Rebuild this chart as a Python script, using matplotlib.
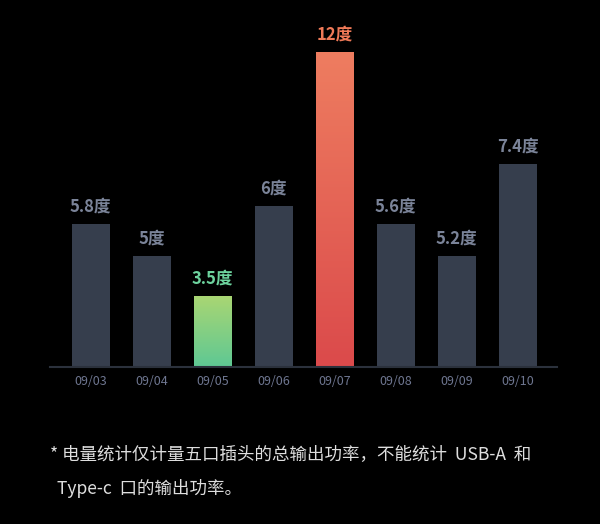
import matplotlib
matplotlib.use("Agg")
import matplotlib.pyplot as plt
import numpy as np
from matplotlib.colors import LinearSegmentedColormap

plt.rcParams['font.family'] = ['Noto Sans CJK SC', 'DejaVu Sans']

dates = ["09/03", "09/04", "09/05", "09/06", "09/07", "09/08", "09/09", "09/10"]
value_labels = ["5.8度", "5度", "3.5度", "6度", "12度", "5.6度", "5.2度", "7.4度"]
# bar heights as drawn in the picture (same units as the 12度 bar)
bar_heights = [5.44, 4.22, 2.70, 6.15, 12.0, 5.44, 4.22, 7.72]
footnote_1 = "* 电量统计仅计量五口插头的总输出功率，不能统计  USB-A  和"
footnote_2 = "Type-c  口的输出功率。"

grey = "#363E4D"
label_grey = "#7B8499"
tick_grey = "#6E7690"
gradients = {4: ("#EE7D60", "#DB4A4B", "#F07A58"),
             2: ("#A9D673", "#5EC894", "#6DD39E")}

fig = plt.figure(figsize=(6.0, 5.24), dpi=100, facecolor="black")
W, H = 600, 524
left, right, bottom, top = 50, 557, 367, 20
ax = fig.add_axes([left / W, 1 - bottom / H, (right - left) / W, (bottom - top) / H])
ax.set_facecolor("black")

x = np.arange(len(dates))
px_per_unit = 61.0
ax.set_xlim((left - 90.5) / px_per_unit, (right - 90.5) / px_per_unit)
ax.set_ylim(0, (bottom - top) / (315.0 / 12.0))

bw = 38 / 61.0
bars = ax.bar(x, bar_heights, width=bw, color=grey, zorder=2)

for i, b in enumerate(bars):
    col = label_grey
    if i in gradients:
        c_top, c_bot, col = gradients[i]
        b.set_facecolor("none")
        cmap = LinearSegmentedColormap.from_list("g%d" % i, [c_bot, c_top])
        grad = np.linspace(0, 1, 256).reshape(-1, 1)
        im = ax.imshow(grad, cmap=cmap, origin="lower", aspect="auto",
                       extent=[b.get_x(), b.get_x() + b.get_width(), 0, b.get_height()],
                       zorder=2)
        im.set_clip_path(b)
    ax.annotate(value_labels[i], (b.get_x() + b.get_width() / 2, b.get_height()),
                xytext=(0, 6), textcoords="offset points", ha="center", va="bottom",
                fontsize=12, fontweight="bold", color=col)

ax.set_xticks(x)
ax.set_xticklabels(dates, fontsize=9, color=tick_grey)
ax.tick_params(axis="x", length=0, pad=6)
ax.set_yticks([])
for s in ["top", "right", "left"]:
    ax.spines[s].set_visible(False)
ax.spines["bottom"].set_color("#2B313C")
ax.spines["bottom"].set_linewidth(1.5)

fig.text(50 / W, 1 - 455 / H, footnote_1, fontsize=12.6, color="#DEDEDE",
         ha="left", va="center")
fig.text(57 / W, 1 - 488 / H, footnote_2, fontsize=12.6, color="#DEDEDE",
         ha="left", va="center")

fig.savefig("out.png", dpi=100, facecolor="black")
